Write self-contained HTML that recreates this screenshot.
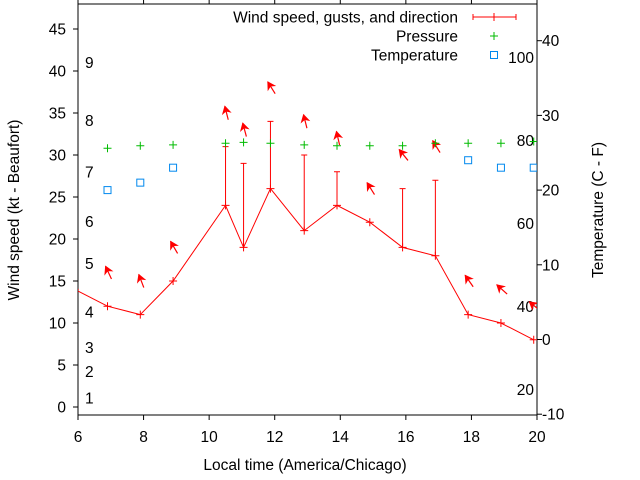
<!DOCTYPE html>
<html><head><meta charset="utf-8"><style>
html,body{margin:0;padding:0;background:#fff}
svg{display:block;font-family:"Liberation Sans",sans-serif}
</style></head><body>
<svg id="chart" width="640" height="480" xmlns="http://www.w3.org/2000/svg"></svg>
<script>
// ----- data -----
const times = [5.9, 6.9, 7.9, 8.9, 10.5, 11.05, 11.87, 12.9, 13.9, 14.9, 15.9, 16.9, 17.9, 18.9, 19.9];
const windSpeed = [14, 12, 11, 15, 24, 19, 26, 21, 24, 22, 19, 18, 11, 10, 8];
const gusts = [null, null, null, null, 31, 29, 34, 30, 28, null, 26, 27, null, null, null];
const arrowLevel = [null, 16, 15, 19, 35, 33, 38, 34, 32, 26, 30, 31, 15, 14, 12];
const arrowHeading = [null, 335, 339, 330, 346, 345, 328, 346, 347, 328, 321, 328, 325, 312, 309];
const pressure = [null, 30.8, 31.1, 31.2, 31.4, 31.5, 31.4, 31.2, 31.1, 31.1, 31.1, 31.4, 31.4, 31.4, 31.6];
const tempTimes = [6.9, 7.9, 8.9, 17.9, 18.9, 19.9];
const tempC = [20, 21, 23, 24, 23, 23];
const xTicks = [6, 8, 10, 12, 14, 16, 18, 20];
const yLeftTicks = [0, 5, 10, 15, 20, 25, 30, 35, 40, 45];
const yRightTicks = [-10, 0, 10, 20, 30, 40];
const beaufortLabels = ["1","2","3","4","5","6","7","8","9"];
const beaufortKt = [1.1, 4.2, 7.1, 11.3, 17.1, 22.1, 28, 34.1, 41];
const fahrenheitLabels = [20, 40, 60, 80, 100];

// ----- axes -----
const FS = 15.5;
const L = 78, R = 537, T = 4, B = 415;
const X = t => L + (t - 6) * (R - L) / 14;
const YL = v => 407 - v * 8.4;
const YR = c => 339.5 - c * 7.47;
const NS = "http://www.w3.org/2000/svg";
const svg = document.getElementById('chart');
function mk(tag, attrs, parent) {
  const e = document.createElementNS(NS, tag);
  for (const k in attrs) e.setAttribute(k, attrs[k]);
  (parent || svg).appendChild(e);
  return e;
}
const defs = mk('defs', {});
const cp = mk('clipPath', {id: 'plotclip'}, defs);
mk('rect', {x: L, y: T, width: R - L, height: B - T}, cp);

const frame = mk('rect', {x: L, y: T, width: R - L, height: B - T, fill: 'none', stroke: '#000', 'stroke-width': 1});



xTicks.forEach(t => {
  const x = X(t);
  mk('line', {x1: x, y1: B, x2: x, y2: B + 5, stroke: '#000'});
  mk('line', {x1: x, y1: T, x2: x, y2: T - 5, stroke: '#000'});
  const tx = mk('text', {x: x, y: 442, 'font-size': FS, 'text-anchor': 'middle', fill: '#000'});
  tx.textContent = t;
  
  
});
yLeftTicks.forEach(v => {
  const y = YL(v);
  mk('line', {x1: L - 5, y1: y, x2: L, y2: y, stroke: '#000'});
  const tx = mk('text', {x: 66, y: y + 5.5, 'font-size': FS, 'text-anchor': 'end', fill: '#000'});
  tx.textContent = v;
  
  
});
yRightTicks.forEach(v => {
  const y = YR(v);
  mk('line', {x1: R, y1: y, x2: R + 5, y2: y, stroke: '#000'});
  const tx = mk('text', {x: 542, y: y + 5.5, 'font-size': FS, 'text-anchor': 'start', fill: '#000'});
  tx.textContent = v;
  
  
});
beaufortLabels.forEach((s, i) => {
  const tx = mk('text', {x: 85, y: YL(beaufortKt[i]) + 5.5, 'font-size': FS, fill: '#000'});
  tx.textContent = s;
  
  
});
fahrenheitLabels.forEach(f => {
  const c = (f - 32) * 5 / 9;
  const tx = mk('text', {x: 534, y: YR(c) + 5.5, 'font-size': FS, 'text-anchor': 'end', fill: '#000'});
  tx.textContent = f;
  
  
});

let t1 = mk('text', {x: 305, y: 470, 'font-size': FS, 'text-anchor': 'middle'});
t1.textContent = 'Local time (America/Chicago)';


let t2 = mk('text', {x: 0, y: 0, 'font-size': FS, 'text-anchor': 'middle', transform: 'translate(19,210) rotate(-90)'});
t2.textContent = 'Wind speed (kt - Beaufort)';


let t3 = mk('text', {x: 0, y: 0, 'font-size': FS, 'text-anchor': 'middle', transform: 'translate(603,210) rotate(-90)'});
t3.textContent = 'Temperature (C - F)';



const g = mk('g', {'clip-path': 'url(#plotclip)'});


function plus(x, y, col, parent, name) {
  const p = mk('path', {d: `M${x-4},${y}H${x+4}M${x},${y-4}V${y+4}`, stroke: col, 'stroke-width': 1, fill: 'none'}, parent);
  
  
}
times.forEach((t, i) => {
  if (gusts[i] == null) return;
  const x = X(t);
  const b = mk('path', {d: `M${x},${YL(windSpeed[i])}V${YL(gusts[i])}M${x-3},${YL(gusts[i])}H${x+3}`, stroke: '#f00', fill: 'none'}, g);
  
  
});
const wl = mk('polyline', {points: times.map((t, i) => X(t) + ',' + YL(windSpeed[i])).join(' '), stroke: '#f00', fill: 'none', 'stroke-width': 1}, g);


times.forEach((t, i) => plus(X(t), YL(windSpeed[i]), '#f00', g, 'wind-point'));
times.forEach((t, i) => {
  if (arrowLevel[i] == null) return;
  const cx = X(t) + 1, cy = YL(arrowLevel[i]);
  const a = arrowHeading[i] * Math.PI / 180;
  const dx = Math.sin(a) * 7, dy = -Math.cos(a) * 7;
  const hx = cx + dx, hy = cy + dy;
  const ag = mk('g', {}, g);
  
  
  mk('line', {x1: cx - dx, y1: cy - dy, x2: hx, y2: hy, stroke: '#f00', 'stroke-width': 1.2}, ag);
  const ux = dx / 7, uy = dy / 7, px = -uy, py = ux;
  mk('polygon', {points: `${hx},${hy} ${hx-ux*7+px*4},${hy-uy*7+py*4} ${hx-ux*5},${hy-uy*5} ${hx-ux*7-px*4},${hy-uy*7-py*4}`, fill: '#f00', stroke: '#f00', 'stroke-width': 0.8}, ag);
});
times.forEach((t, i) => { if (pressure[i] != null) plus(X(t), YL(pressure[i]), '#0b0', g, 'pressure-point'); });
tempTimes.forEach((t, i) => {
  const r = mk('rect', {x: X(t) - 3.5, y: YR(tempC[i]) - 3.5, width: 7, height: 7, fill: 'none', stroke: '#08e', 'stroke-width': 1}, g);
  
  
});

const lg = mk('g', {});


const legendItems = ['Wind speed, gusts, and direction', 'Pressure', 'Temperature'];
legendItems.forEach((s, i) => {
  const y = 17 + i * 19;
  const tx = mk('text', {x: 458, y: y + 5.5, 'font-size': FS, 'text-anchor': 'end'}, lg);
  tx.textContent = s;
  
  
});
mk('path', {d: 'M473,17H516M473,14V20M516,14V20M494,13V21', stroke: '#f00', fill: 'none'}, lg);
plus(494, 36, '#0b0', lg, 'legend-pressure-marker');
const lr = mk('rect', {x: 490.5, y: 51.5, width: 7, height: 7, fill: 'none', stroke: '#08e'}, lg);


</script>
</body></html>
